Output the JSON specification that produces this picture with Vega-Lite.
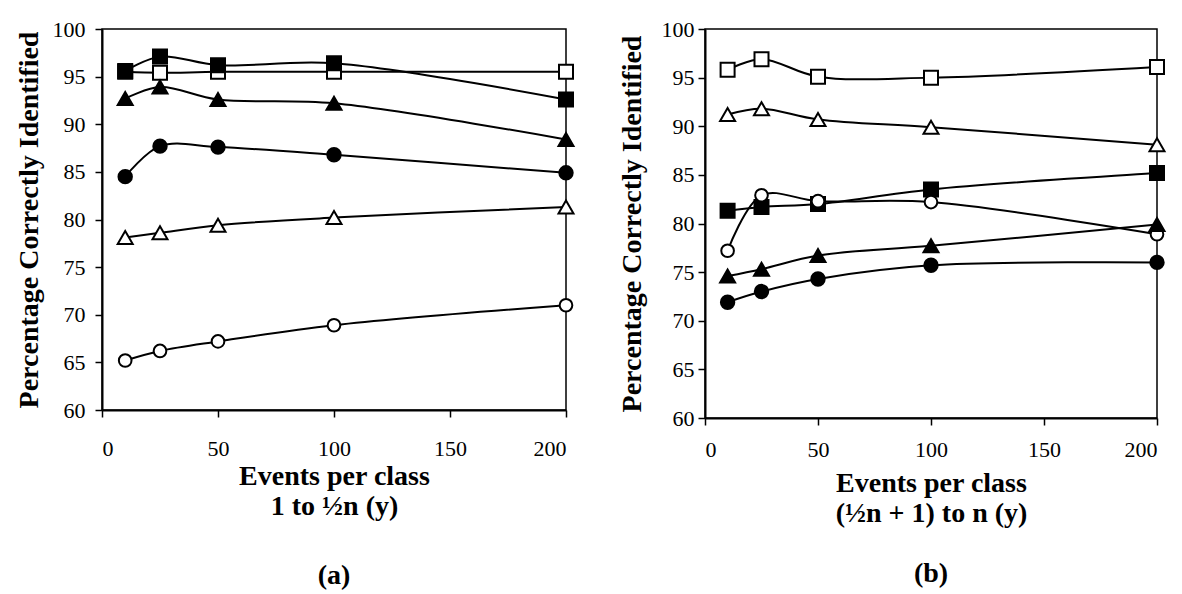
{
  "$schema": "https://vega.github.io/schema/vega-lite/v6.json",
  "background": "white",
  "padding": {"left": 14, "top": 17, "right": 4, "bottom": 0},
  "config": {
    "font": "Liberation Serif",
    "view": {"stroke": "black", "strokeWidth": 1.5},
    "concat": {"spacing": 38},
    "axis": {
      "domainColor": "black",
      "domainWidth": 2,
      "tickColor": "black",
      "tickWidth": 1.5,
      "tickSize": 7,
      "grid": false,
      "labelFont": "Liberation Serif",
      "labelFontSize": 22,
      "labelColor": "black",
      "titleFont": "Liberation Serif",
      "titleFontSize": 28,
      "titleFontWeight": "bold",
      "titleColor": "black"
    },
    "axisX": {"titleLineHeight": 30},
    "title": {"font": "Liberation Serif", "fontSize": 28, "fontWeight": "bold", "color": "black", "orient": "bottom", "frame": "group", "anchor": "middle"}
  },
  "datasets": {
    "partA": [
      {"series": "Set A", "events": 10, "pct": 95.5},
      {"series": "Set A", "events": 25, "pct": 95.4},
      {"series": "Set A", "events": 50, "pct": 95.5},
      {"series": "Set A", "events": 100, "pct": 95.5},
      {"series": "Set A", "events": 200, "pct": 95.5},
      {"series": "Set B", "events": 10, "pct": 95.6},
      {"series": "Set B", "events": 25, "pct": 97.1},
      {"series": "Set B", "events": 50, "pct": 96.2},
      {"series": "Set B", "events": 100, "pct": 96.4},
      {"series": "Set B", "events": 200, "pct": 92.6},
      {"series": "Set C", "events": 10, "pct": 92.7},
      {"series": "Set C", "events": 25, "pct": 93.9},
      {"series": "Set C", "events": 50, "pct": 92.6},
      {"series": "Set C", "events": 100, "pct": 92.2},
      {"series": "Set C", "events": 200, "pct": 88.4},
      {"series": "Set D", "events": 10, "pct": 84.5},
      {"series": "Set D", "events": 25, "pct": 87.7},
      {"series": "Set D", "events": 50, "pct": 87.6},
      {"series": "Set D", "events": 100, "pct": 86.8},
      {"series": "Set D", "events": 200, "pct": 84.9},
      {"series": "Set E", "events": 10, "pct": 78.1},
      {"series": "Set E", "events": 25, "pct": 78.6},
      {"series": "Set E", "events": 50, "pct": 79.4},
      {"series": "Set E", "events": 100, "pct": 80.2},
      {"series": "Set E", "events": 200, "pct": 81.3},
      {"series": "Set F", "events": 10, "pct": 65.2},
      {"series": "Set F", "events": 25, "pct": 66.2},
      {"series": "Set F", "events": 50, "pct": 67.2},
      {"series": "Set F", "events": 100, "pct": 68.9},
      {"series": "Set F", "events": 200, "pct": 71.0}
    ],
    "partB": [
      {"series": "Set A", "events": 10, "pct": 95.8},
      {"series": "Set A", "events": 25, "pct": 96.9},
      {"series": "Set A", "events": 50, "pct": 95.1},
      {"series": "Set A", "events": 100, "pct": 95.0},
      {"series": "Set A", "events": 200, "pct": 96.1},
      {"series": "Set E", "events": 10, "pct": 91.2},
      {"series": "Set E", "events": 25, "pct": 91.8},
      {"series": "Set E", "events": 50, "pct": 90.7},
      {"series": "Set E", "events": 100, "pct": 89.9},
      {"series": "Set E", "events": 200, "pct": 88.1},
      {"series": "Set B", "events": 10, "pct": 81.3},
      {"series": "Set B", "events": 25, "pct": 81.7},
      {"series": "Set B", "events": 50, "pct": 82.0},
      {"series": "Set B", "events": 100, "pct": 83.5},
      {"series": "Set B", "events": 200, "pct": 85.2},
      {"series": "Set F", "events": 10, "pct": 77.2},
      {"series": "Set F", "events": 25, "pct": 82.9},
      {"series": "Set F", "events": 50, "pct": 82.3},
      {"series": "Set F", "events": 100, "pct": 82.2},
      {"series": "Set F", "events": 200, "pct": 78.9},
      {"series": "Set C", "events": 10, "pct": 74.6},
      {"series": "Set C", "events": 25, "pct": 75.3},
      {"series": "Set C", "events": 50, "pct": 76.7},
      {"series": "Set C", "events": 100, "pct": 77.7},
      {"series": "Set C", "events": 200, "pct": 79.9},
      {"series": "Set D", "events": 10, "pct": 71.9},
      {"series": "Set D", "events": 25, "pct": 73.0},
      {"series": "Set D", "events": 50, "pct": 74.3},
      {"series": "Set D", "events": 100, "pct": 75.7},
      {"series": "Set D", "events": 200, "pct": 76.0}
    ]
  },
  "hconcat": [
    {
      "width": 464,
      "height": 381,
      "data": {"name": "partA"},
      "title": {"text": "(a)", "offset": 42},
      "encoding": {
        "x": {"field": "events", "type": "quantitative", "scale": {"domain": [0, 200], "nice": false},
              "axis": {"values": [0, 50, 100, 150, 200], "labelPadding": 21, "titlePadding": 3,
                       "title": ["Events per class", "1 to ½n (y)"]}},
        "y": {"field": "pct", "type": "quantitative", "scale": {"domain": [60, 100], "nice": false, "zero": false},
              "axis": {"values": [60, 65, 70, 75, 80, 85, 90, 95, 100], "labelPadding": 10, "titlePadding": 9,
                       "title": "Percentage Correctly Identified"}}
      },
      "layer": [
        {"mark": {"type": "line", "interpolate": "catmull-rom", "color": "black", "strokeWidth": 2},
         "encoding": {"detail": {"field": "series"}}},
        {"mark": {"type": "point", "filled": true, "stroke": "black", "strokeWidth": 2, "opacity": 1},
         "encoding": {
           "shape": {"field": "series", "legend": null,
                     "scale": {"domain": ["Set A", "Set B", "Set C", "Set D", "Set E", "Set F"],
                               "range": ["square", "square", "triangle-up", "circle", "triangle-up", "circle"]}},
           "fill": {"field": "series", "legend": null,
                    "scale": {"domain": ["Set A", "Set B", "Set C", "Set D", "Set E", "Set F"],
                              "range": ["white", "black", "black", "black", "white", "white"]}},
           "size": {"field": "series", "legend": null,
                    "scale": {"type": "ordinal", "domain": ["Set A", "Set B", "Set C", "Set D", "Set E", "Set F"],
                              "range": [196, 196, 225, 180, 225, 160]}}
         }}
      ]
    },
    {
      "width": 452,
      "height": 389,
      "data": {"name": "partB"},
      "title": {"text": "(b)", "offset": 33},
      "encoding": {
        "x": {"field": "events", "type": "quantitative", "scale": {"domain": [0, 200], "nice": false},
              "axis": {"values": [0, 50, 100, 150, 200], "labelPadding": 14, "titlePadding": 9,
                       "title": ["Events per class", "(½n + 1) to n (y)"]}},
        "y": {"field": "pct", "type": "quantitative", "scale": {"domain": [60, 100], "nice": false, "zero": false},
              "axis": {"values": [60, 65, 70, 75, 80, 85, 90, 95, 100], "labelPadding": 4, "titlePadding": 15,
                       "title": "Percentage Correctly Identified"}}
      },
      "layer": [
        {"mark": {"type": "line", "interpolate": "catmull-rom", "color": "black", "strokeWidth": 2},
         "encoding": {"detail": {"field": "series"}}},
        {"mark": {"type": "point", "filled": true, "stroke": "black", "strokeWidth": 2, "opacity": 1},
         "encoding": {
           "shape": {"field": "series", "legend": null,
                     "scale": {"domain": ["Set A", "Set B", "Set C", "Set D", "Set E", "Set F"],
                               "range": ["square", "square", "triangle-up", "circle", "triangle-up", "circle"]}},
           "fill": {"field": "series", "legend": null,
                    "scale": {"domain": ["Set A", "Set B", "Set C", "Set D", "Set E", "Set F"],
                              "range": ["white", "black", "black", "black", "white", "white"]}},
           "size": {"field": "series", "legend": null,
                    "scale": {"type": "ordinal", "domain": ["Set A", "Set B", "Set C", "Set D", "Set E", "Set F"],
                              "range": [196, 196, 225, 180, 225, 160]}}
         }}
      ]
    }
  ]
}
